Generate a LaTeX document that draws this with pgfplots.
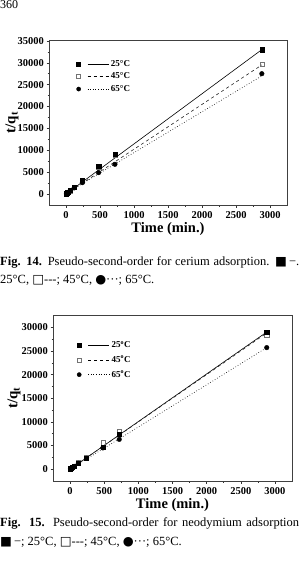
\documentclass[border=0pt]{standalone}
\usepackage{pgfplots}
\pgfplotsset{compat=1.18}
\usepackage{fontspec}
\setmainfont{Liberation Serif}
\newfontfamily\symfont{DejaVu Sans}

% common look of both kinetic plots
\pgfplotsset{
  kin/.style={
    scale only axis,
    axis line style={black!75, line width=0.7pt},
    xtick pos=left, ytick pos=left,
    tick align=outside,
    tick style={black!80, line width=0.5pt},
    major tick length=2.5pt, minor tick length=1.5pt,
    minor x tick num=1, minor y tick num=1,
    scaled y ticks=false, scaled x ticks=false,
    /pgf/number format/assume math mode=true,
    /pgf/number format/set thousands separator={},
    ticklabel style={font=\bfseries\fontsize{10.5}{12}\selectfont},
    yticklabel style={xshift=1pt},
    xmin=-250, xmax=3250,
    xtick={0,500,...,3000},
    xlabel={\textbf{Time (min.)}},
    xlabel style={font=\fontsize{14.5}{16}\selectfont, yshift=3pt},
    ylabel={\textbf{t/q\textsubscript{t}}},
    legend style={draw=none, fill=none, font=\bfseries\fontsize{9}{10}\selectfont,
      row sep=1pt, inner sep=0pt},
    legend cell align=left,
    clip=false,
  },
  ylab/.style={every axis y label/.style={at={(axis description cs:#1,0.5)},
      rotate=90, anchor=center, inner sep=0pt, font=\fontsize{15}{17}\selectfont}},
  sq/.style={only marks, mark=square*, mark size=2.1pt, black},
  osq/.style={only marks, mark=square, mark size=2.1pt, black!55, mark options={fill=white}},
  cir/.style={only marks, mark=*, mark size=2.3pt, black},
}

\newcommand{\legimg}[2]{%
  \addlegendimage{legend image code/.code={
    \draw[black, solid, #1] plot coordinates {(0pt,0pt)};
    \draw[black, line width=0.6pt, #2] (9pt,0pt) -- (30pt,0pt);}}}

\newcommand{\capfont}{\fontsize{12.5}{15}\selectfont}
\newcommand{\dsh}{-{}-{}-}

\begin{document}
\begin{tikzpicture}
\path[use as bounding box] (0pt,0pt) rectangle (299pt,-572pt);

% page number
\node[font=\fontsize{12}{14}\selectfont, anchor=north west, inner sep=0pt] at (0pt,-0.5pt) {360};

% ---------- cerium ----------
\begin{axis}[kin, ylab=-0.155, at={(49pt,-205pt)}, anchor=south west,
  width=238pt, height=165pt,
  ymin=-2500, ymax=35200, ytick={0,5000,...,35000},
  legend style={at={(0.115,0.89)}, anchor=north west}]
\legimg{mark=square*, mark size=2pt}{solid}
\addlegendentry{25°C}
\legimg{mark=square, mark size=2pt, black!55}{dashed}
\addlegendentry{45°C}
\legimg{mark=*, mark size=2.1pt}{dotted}
\addlegendentry{65°C}

\addplot[black, line width=0.6pt] coordinates {(0,0) (2880,33000)};
\addplot[black!85, line width=0.6pt, dashed] coordinates {(0,0) (2880,29500)};
\addplot[black!85, line width=0.7pt, dotted] coordinates {(0,150) (2880,27000)};

\addplot[osq] coordinates {(5,90) (10,180) (20,300) (30,420) (60,780) (120,1500)
  (240,2900) (480,6100) (720,8900) (2880,29600)};
\addplot[cir] coordinates {(5,80) (10,160) (20,280) (30,380) (60,700) (120,1400)
  (240,2600) (480,4900) (720,6800) (2880,27500)};
\addplot[sq] coordinates {(5,100) (10,200) (20,330) (30,450) (60,850) (120,1650)
  (240,3200) (480,6300) (720,9100) (2880,33000)};
\end{axis}

\node[anchor=base west, inner sep=0pt, font=\capfont] at (0pt,-265pt)
  {\makebox[299pt][s]{\textbf{Fig. 14.} Pseudo-second-order for cerium adsorption. {\symfont■}\,−.}};
\node[anchor=base west, inner sep=0pt, font=\capfont] at (0pt,-283pt)
  {25°C, {\symfont□}\dsh; 45°C, {\symfont●}···; 65°C.};

% ---------- neodymium ----------
\begin{axis}[kin, ylab=-0.163, at={(53pt,-481pt)}, anchor=south west,
  width=239pt, height=166pt,
  ymin=-2500, ymax=32600, ytick={0,5000,...,30000},
  legend style={at={(0.1,0.855)}, anchor=north west, row sep=2.5pt}]
\legimg{mark=square*, mark size=2pt}{solid}
\addlegendentry{25\textsuperscript{o}C}
\legimg{mark=square, mark size=2pt, black!55}{dashed}
\addlegendentry{45\textsuperscript{o}C}
\legimg{mark=*, mark size=2.1pt}{dotted}
\addlegendentry{65\textsuperscript{o}C}

\addplot[black, line width=0.6pt] coordinates {(0,0) (2880,29000)};
\addplot[black!85, line width=0.6pt, dashed] coordinates {(0,0) (2880,28800)};
\addplot[black!85, line width=0.7pt, dotted] coordinates {(0,0) (2880,25700)};

\addplot[osq] coordinates {(5,90) (10,160) (20,270) (30,380) (60,700) (120,1400)
  (240,2600) (480,5600) (720,8000) (2880,28300)};
\addplot[cir] coordinates {(5,70) (10,140) (20,230) (30,320) (60,600) (120,1250)
  (240,2300) (480,4500) (720,6300) (2880,25700)};
\addplot[sq] coordinates {(5,80) (10,150) (20,250) (30,350) (60,650) (120,1300)
  (240,2400) (480,4700) (720,7400) (2880,29000)};
\end{axis}

\node[anchor=base west, inner sep=0pt, font=\capfont] at (0pt,-526pt)
  {\makebox[299pt][s]{\textbf{Fig. 15.} Pseudo-second-order for neodymium adsorption}};
\node[anchor=base west, inner sep=0pt, font=\capfont] at (0pt,-545pt)
  {{\symfont■}\,−; 25°C, {\symfont□}\dsh; 45°C, {\symfont●}···; 65°C.};
\end{tikzpicture}
\end{document}
